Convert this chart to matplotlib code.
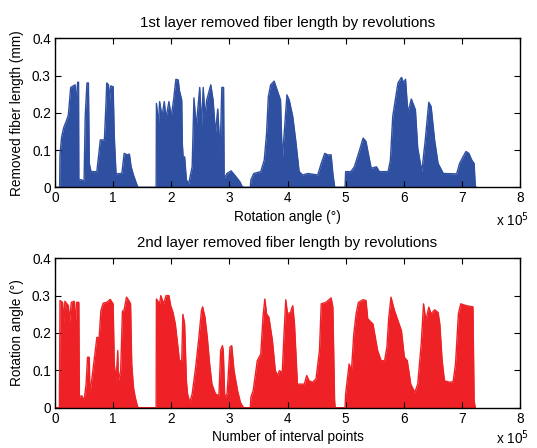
import matplotlib
matplotlib.use("Agg")
import matplotlib.pyplot as plt

# rotation angle / interval points in units of 1e5
layer1_x = [0, 0.08, 0.086, 0.115, 0.15, 0.2, 0.23, 0.27, 0.345, 0.36, 0.39, 0.405, 0.41,
            0.46, 0.5, 0.52, 0.55, 0.575, 0.59, 0.62, 0.72, 0.78, 0.85, 0.88, 0.89, 0.92,
            0.94, 0.96, 1.0, 1.02, 1.05, 1.15, 1.19, 1.24, 1.28, 1.31, 1.35, 1.41, 1.43,
            1.74, 1.745, 1.78, 1.8, 1.84, 1.88, 1.91, 1.96, 2.0, 2.04, 2.08, 2.12, 2.14,
            2.18, 2.19, 2.22, 2.23, 2.26, 2.3, 2.36, 2.39, 2.43, 2.49, 2.52, 2.55, 2.58,
            2.61, 2.68, 2.72, 2.76, 2.8, 2.84, 2.87, 2.9, 2.91, 2.96, 3.03, 3.11, 3.18,
            3.22, 3.24, 3.36, 3.37, 3.42, 3.54, 3.6, 3.64, 3.67, 3.71, 3.77, 3.83, 3.88,
            3.91, 3.99, 4.03, 4.09, 4.14, 4.2, 4.26, 4.35, 4.52, 4.58, 4.64, 4.69, 4.75,
            4.78, 4.81, 4.82, 4.99, 5.0, 5.09, 5.15, 5.24, 5.3, 5.35, 5.4, 5.44, 5.53,
            5.58, 5.73, 5.77, 5.81, 5.9, 5.96, 6.0, 6.03, 6.07, 6.13, 6.2, 6.24, 6.31,
            6.37, 6.43, 6.47, 6.53, 6.59, 6.68, 6.91, 6.96, 7.02, 7.07, 7.12, 7.17, 7.21,
            7.23, 7.25]
layer1_y = [0, 0, 0.087, 0.136, 0.16, 0.18, 0.194, 0.268, 0.275, 0.225, 0.282, 0.282, 0.02,
            0.02, 0.015, 0.19, 0.28, 0.28, 0.064, 0.042, 0.042, 0.127, 0.127, 0.235, 0.28, 0.275,
            0.235, 0.272, 0.27, 0.136, 0.036, 0.037, 0.091, 0.087, 0.089, 0.055, 0.033, 0.006, 0,
            0, 0.225, 0.17, 0.23, 0.19, 0.23, 0.185, 0.23, 0.19, 0.234, 0.29, 0.288, 0.26,
            0.234, 0.118, 0.042, 0.082, 0.02, 0.01, 0.055, 0.24, 0.163, 0.268, 0.163, 0.268, 0.19,
            0.234, 0.275, 0.234, 0.145, 0.21, 0.09, 0.268, 0.268, 0.024, 0.037, 0.044, 0.029, 0.015,
            0.002, 0, 0, 0.02, 0.037, 0.042, 0.073, 0.145, 0.243, 0.275, 0.285, 0.257, 0.234,
            0.073, 0.248, 0.234, 0.19, 0.127, 0.042, 0.033, 0.037, 0.033, 0.064, 0.091, 0.087, 0.087,
            0.037, 0.002, 0, 0, 0.042, 0.042, 0.055, 0.1, 0.132, 0.123, 0.082, 0.051, 0.055,
            0.042, 0.042, 0.073, 0.19, 0.28, 0.295, 0.28, 0.29, 0.2, 0.237, 0.208, 0.105, 0.042,
            0.127, 0.228, 0.217, 0.127, 0.064, 0.037, 0.036, 0.064, 0.082, 0.096, 0.091, 0.073, 0.064,
            0.002, 0]

layer2_x = [0, 0.075, 0.086, 0.13, 0.155, 0.17, 0.23, 0.25, 0.28, 0.33, 0.35, 0.37, 0.41,
            0.42, 0.46, 0.5, 0.535, 0.56, 0.59, 0.6, 0.63, 0.68, 0.72, 0.76, 0.79, 0.83,
            0.89, 0.95, 1.0, 1.02, 1.05, 1.08, 1.09, 1.13, 1.16, 1.19, 1.23, 1.27, 1.3,
            1.32, 1.35, 1.38, 1.42, 1.44, 1.74, 1.745, 1.8, 1.82, 1.87, 1.91, 1.96, 1.99,
            2.03, 2.07, 2.11, 2.14, 2.18, 2.2, 2.23, 2.26, 2.28, 2.32, 2.36, 2.42, 2.47,
            2.52, 2.54, 2.58, 2.62, 2.66, 2.7, 2.76, 2.82, 2.85, 2.88, 2.895, 2.92, 2.96,
            3.01, 3.04, 3.08, 3.14, 3.19, 3.23, 3.25, 3.36, 3.37, 3.41, 3.48, 3.54, 3.58,
            3.61, 3.64, 3.68, 3.74, 3.79, 3.83, 3.86, 3.91, 3.94, 3.97, 4.0, 4.05, 4.09,
            4.12, 4.17, 4.23, 4.29, 4.33, 4.37, 4.43, 4.49, 4.55, 4.58, 4.66, 4.75, 4.78,
            4.81, 4.82, 4.99, 5.0, 5.06, 5.1, 5.14, 5.18, 5.22, 5.3, 5.35, 5.38, 5.47,
            5.55, 5.61, 5.67, 5.71, 5.74, 5.78, 5.84, 5.9, 5.96, 6.01, 6.06, 6.12, 6.19,
            6.24, 6.3, 6.34, 6.38, 6.43, 6.47, 6.53, 6.59, 6.62, 6.66, 6.7, 6.79, 6.85,
            6.89, 6.94, 6.98, 7.08, 7.19, 7.21, 7.23]
layer2_y = [0, 0, 0.287, 0.282, 0.224, 0.285, 0.273, 0.229, 0.282, 0.285, 0.224, 0.282, 0.282,
            0.028, 0.032, 0.019, 0.063, 0.135, 0.135, 0.037, 0.072, 0.135, 0.188, 0.188, 0.26, 0.28,
            0.282, 0.29, 0.278, 0.117, 0.072, 0.153, 0.072, 0.099, 0.258, 0.262, 0.296, 0.287, 0.278,
            0.117, 0.054, 0.028, 0.003, 0, 0, 0.291, 0.278, 0.3, 0.278, 0.3, 0.3, 0.273,
            0.255, 0.224, 0.17, 0.126, 0.126, 0.25, 0.224, 0.072, 0.037, 0.014, 0.037, 0.108, 0.18,
            0.26, 0.27, 0.242, 0.188, 0.117, 0.063, 0.037, 0.032, 0.153, 0.166, 0.153, 0.028, 0.037,
            0.162, 0.166, 0.099, 0.046, 0.014, 0.003, 0, 0, 0.028, 0.046, 0.126, 0.144, 0.246,
            0.291, 0.251, 0.242, 0.18, 0.099, 0.086, 0.099, 0.095, 0.197, 0.289, 0.251, 0.255, 0.273,
            0.224, 0.063, 0.063, 0.063, 0.086, 0.072, 0.068, 0.077, 0.153, 0.278, 0.282, 0.294, 0.269,
            0.019, 0, 0, 0.037, 0.117, 0.099, 0.197, 0.251, 0.282, 0.289, 0.287, 0.238, 0.224,
            0.153, 0.126, 0.126, 0.162, 0.238, 0.296, 0.26, 0.233, 0.206, 0.135, 0.126, 0.063, 0.041,
            0.063, 0.17, 0.278, 0.233, 0.269, 0.251, 0.262, 0.255, 0.224, 0.126, 0.072, 0.068, 0.07,
            0.117, 0.251, 0.278, 0.273, 0.27, 0.019, 0]

BLUE = "#2f4fa0"
RED = "#ee2226"

plt.rcParams["font.family"] = ["Liberation Sans", "DejaVu Sans"]
plt.rcParams["font.size"] = 9.8


def style_axes(ax):
    ax.set_xlim(0, 8)
    ax.set_ylim(0, 0.4)
    ax.set_xticks(range(9))
    ax.set_xticklabels([str(i) for i in range(9)])
    ax.set_yticks([0, 0.1, 0.2, 0.3, 0.4])
    ax.set_yticklabels(["0", "0.1", "0.2", "0.3", "0.4"])
    ax.tick_params(direction="in", top=True, right=True, length=4, width=0.8, pad=3)
    for s in ax.spines.values():
        s.set_linewidth(1.0)


fig = plt.figure(figsize=(5.37, 4.48), dpi=100)
ax1 = fig.add_axes([0.1024, 0.582, 0.866, 0.3326])
ax2 = fig.add_axes([0.1024, 0.090, 0.866, 0.3335])

ax1.fill_between(layer1_x, layer1_y, 0, color=BLUE, linewidth=0)
ax1.plot(layer1_x, layer1_y, color=BLUE, linewidth=1.0)
style_axes(ax1)
ax1.set_title("1st layer removed fiber length by revolutions", fontsize=10.8, pad=8)
ax1.set_xlabel("Rotation angle (°)", labelpad=3)
ax1.set_ylabel("Removed fiber length (mm)", labelpad=6)
ax1.text(1.02, -0.22, r"x 10$^{5}$", transform=ax1.transAxes, ha="right", va="center")

ax2.fill_between(layer2_x, layer2_y, 0, color=RED, linewidth=0)
ax2.plot(layer2_x, layer2_y, color=RED, linewidth=1.0)
style_axes(ax2)
ax2.set_title("2nd layer removed fiber length by revolutions", fontsize=10.8, pad=8)
ax2.set_xlabel("Number of interval points", labelpad=3)
ax2.set_ylabel("Rotation angle (°)", labelpad=6)
ax2.text(1.02, -0.2, r"x 10$^{5}$", transform=ax2.transAxes, ha="right", va="center")

fig.savefig("out.png", dpi=100)
